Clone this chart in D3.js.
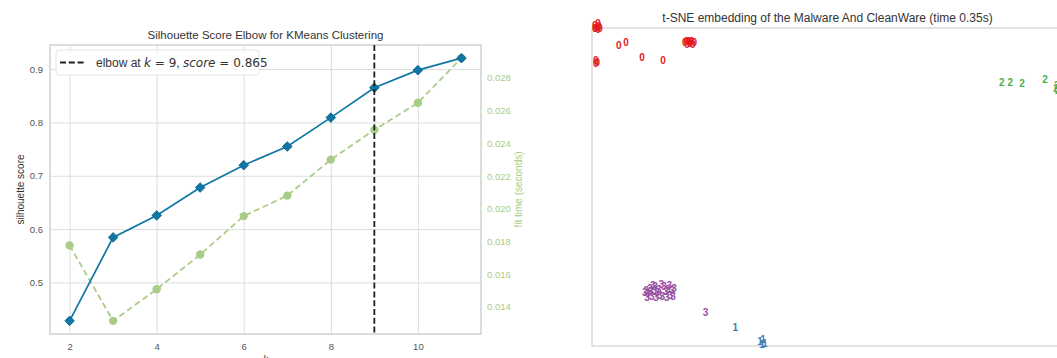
<!DOCTYPE html>
<html>
<head>
<meta charset="utf-8">
<script src="https://cdn.jsdelivr.net/npm/d3@7"></script>
<style>
  html, body { margin: 0; padding: 0; background: #ffffff; }
  svg { display: block; }
  text { font-family: "Liberation Sans", Arial, sans-serif; }
</style>
</head>
<body>
<svg id="chart" width="1057" height="358"></svg>
<script>
// ---------------- data ----------------
const kValues = [2, 3, 4, 5, 6, 7, 8, 9, 10, 11];
const silhouetteScores = [0.428, 0.5845, 0.6256, 0.678, 0.7198, 0.7548, 0.809, 0.865, 0.898, 0.9205];
const fitTimes = [0.01776, 0.01315, 0.01508, 0.0172, 0.01955, 0.0208, 0.0230, 0.02482, 0.02647, 0.0292];
const elbowK = 9;
const elbowScore = 0.865;
const xTickValues = [2, 4, 6, 8, 10];
const leftTickValues = [0.5, 0.6, 0.7, 0.8, 0.9];
const rightTickValues = [0.014, 0.016, 0.018, 0.020, 0.022, 0.024, 0.026, 0.028];

const leftTitle = "Silhouette Score Elbow for KMeans Clustering";
const rightTitle = "t-SNE embedding of the Malware And CleanWare (time 0.35s)";

// t-SNE embedding (normalised to [0,1]) per class label
const class0 = [
  [0.006, 1.009], [0.011, 1.003], [0.015, 1.006], [0.008, 0.997], [0.013, 1.013], [0.017, 1.000], [0.006, 1.000], [0.013, 0.994],
  [0.057, 0.944], [0.072, 0.954], [0.106, 0.908], [0.151, 0.897],
  [0.197, 0.953], [0.204, 0.959], [0.208, 0.950], [0.212, 0.956], [0.217, 0.953], [0.202, 0.947], [0.210, 0.959], [0.206, 0.953],
  [0.200, 0.956], [0.214, 0.949],
  [0.008, 0.899], [0.008, 0.887], [0.011, 0.893]
];
const class1 = [
  [0.304, 0.059], [0.357, 0.013], [0.363, 0.019], [0.367, 0.009], [0.361, 0.006]
];
const class2 = [
  [0.870, 0.830], [0.888, 0.830], [0.913, 0.824], [0.962, 0.837], [0.985, 0.811],
  [0.987, 0.818], [0.989, 0.805], [0.994, 0.821], [0.999, 0.811]
];
const class3 = [
  [0.115, 0.176], [0.119, 0.164], [0.123, 0.182], [0.127, 0.157], [0.134, 0.186], [0.138, 0.167], [0.142, 0.179],
  [0.149, 0.157], [0.153, 0.186], [0.157, 0.170], [0.161, 0.179], [0.166, 0.160], [0.170, 0.173], [0.117, 0.154],
  [0.132, 0.173], [0.147, 0.192], [0.164, 0.189], [0.172, 0.157], [0.136, 0.154], [0.125, 0.170],
  [0.112, 0.168], [0.174, 0.181], [0.144, 0.160], [0.129, 0.190], [0.159, 0.152],
  [0.241, 0.106]
];
const classColors = ["#e41a1c", "#377eb8", "#4daf4a", "#984ea3"];

// ---------------- drawing ----------------
const svg = d3.select("#chart");

const L = { left: 50, right: 481, top: 45, bottom: 334 };
const margin = (arr) => {
  const mn = d3.min(arr), mx = d3.max(arr), r = mx - mn;
  return [mn - 0.05 * r, mx + 0.05 * r];
};
const x = d3.scaleLinear().domain(margin(kValues)).range([L.left, L.right]);
const yL = d3.scaleLinear().domain(margin(silhouetteScores)).range([L.bottom, L.top]);
const yR = d3.scaleLinear().domain(margin(fitTimes)).range([L.bottom, L.top]);

const gridColor = "#dddddd";
const frameColor = "#d4d4d4";
const tickColor = "#555555";
const blue = "#0f77a5";
const green = "#a9cd88";
const greenText = "#a6cc86";

// grid
svg.append("g")
  .attr("transform", `translate(0,${L.bottom})`)
  .call(d3.axisBottom(x).tickValues(xTickValues).tickSize(-(L.bottom - L.top)).tickFormat(""))
  .call(g => g.select(".domain").remove())
  .call(g => g.selectAll("line").attr("stroke", gridColor).attr("stroke-width", 1));
svg.append("g")
  .attr("transform", `translate(${L.left},0)`)
  .call(d3.axisLeft(yL).tickValues(leftTickValues).tickSize(-(L.right - L.left)).tickFormat(""))
  .call(g => g.select(".domain").remove())
  .call(g => g.selectAll("line").attr("stroke", gridColor).attr("stroke-width", 1));

// frame
svg.append("rect")
  .attr("x", L.left).attr("y", L.top)
  .attr("width", L.right - L.left).attr("height", L.bottom - L.top)
  .attr("fill", "none").attr("stroke", frameColor).attr("stroke-width", 1.6);

// tick labels
svg.append("g")
  .attr("transform", `translate(0,${L.bottom})`)
  .call(d3.axisBottom(x).tickValues(xTickValues).tickSize(0).tickPadding(9).tickFormat(d3.format("d")))
  .call(g => g.select(".domain").remove())
  .call(g => g.selectAll("text").attr("fill", tickColor).attr("font-size", "9.5px")
    .attr("font-family", "Liberation Sans, Arial, sans-serif"));
svg.append("g")
  .attr("transform", `translate(${L.left},0)`)
  .call(d3.axisLeft(yL).tickValues(leftTickValues).tickSize(0).tickPadding(7).tickFormat(d3.format(".1f")))
  .call(g => g.select(".domain").remove())
  .call(g => g.selectAll("text").attr("fill", tickColor).attr("font-size", "9.5px")
    .attr("font-family", "Liberation Sans, Arial, sans-serif"));
svg.append("g")
  .attr("transform", `translate(${L.right},0)`)
  .call(d3.axisRight(yR).tickValues(rightTickValues).tickSize(0).tickPadding(6).tickFormat(d3.format(".3f")))
  .call(g => g.select(".domain").remove())
  .call(g => g.selectAll("text").attr("fill", greenText).attr("font-size", "9.5px")
    .attr("font-family", "Liberation Sans, Arial, sans-serif"));

// axis labels
svg.append("text")
  .attr("transform", `translate(24,${(L.top + L.bottom) / 2}) rotate(-90)`)
  .attr("text-anchor", "middle").attr("font-size", "10px").attr("fill", "#333")
  .text("silhouette score");
svg.append("text")
  .attr("transform", `translate(522,${(L.top + L.bottom) / 2}) rotate(-90)`)
  .attr("text-anchor", "middle").attr("font-size", "10px").attr("fill", greenText)
  .text("fit time (seconds)");
svg.append("text")
  .attr("x", (L.left + L.right) / 2).attr("y", 363)
  .attr("text-anchor", "middle").attr("font-size", "10px").attr("fill", "#333")
  .attr("font-style", "italic").attr("font-family", "DejaVu Sans, sans-serif")
  .text("k");

// title
svg.append("text")
  .attr("x", (L.left + L.right) / 2).attr("y", 39)
  .attr("text-anchor", "middle").attr("font-size", "11.5px").attr("fill", "#333")
  .text(leftTitle);

// fit time line (secondary)
const timeData = kValues.map((k, i) => ({ k, v: fitTimes[i] }));
svg.append("path")
  .datum(timeData)
  .attr("fill", "none").attr("stroke", green).attr("stroke-width", 1.8)
  .attr("stroke-dasharray", "6,3.5")
  .attr("d", d3.line().x(d => x(d.k)).y(d => yR(d.v)));
svg.append("g").selectAll("circle").data(timeData).join("circle")
  .attr("cx", d => x(d.k)).attr("cy", d => yR(d.v)).attr("r", 4.2)
  .attr("fill", green);

// silhouette line
const scoreData = kValues.map((k, i) => ({ k, v: silhouetteScores[i] }));
svg.append("path")
  .datum(scoreData)
  .attr("fill", "none").attr("stroke", blue).attr("stroke-width", 1.7)
  .attr("d", d3.line().x(d => x(d.k)).y(d => yL(d.v)));
const diamond = d3.symbol().type(d3.symbolSquare).size(46);
svg.append("g").selectAll("path").data(scoreData).join("path")
  .attr("d", diamond)
  .attr("transform", d => `translate(${x(d.k)},${yL(d.v)}) rotate(45)`)
  .attr("fill", blue).attr("stroke", "#0a5f86").attr("stroke-width", 0.8);

// elbow line
svg.append("line")
  .attr("x1", x(elbowK)).attr("x2", x(elbowK))
  .attr("y1", L.top).attr("y2", L.bottom)
  .attr("stroke", "#1e1e1e").attr("stroke-width", 1.8)
  .attr("stroke-dasharray", "6,2.8");

// legend
const lg = svg.append("g");
lg.append("rect")
  .attr("x", 56).attr("y", 50).attr("width", 203).attr("height", 25).attr("rx", 3)
  .attr("fill", "#ffffff").attr("fill-opacity", 0.85)
  .attr("stroke", "#e6e6e6").attr("stroke-width", 1);
lg.append("line")
  .attr("x1", 60).attr("x2", 84).attr("y1", 62.5).attr("y2", 62.5)
  .attr("stroke", "#1e1e1e").attr("stroke-width", 1.8).attr("stroke-dasharray", "6,2.8");
const lt = lg.append("text").attr("x", 96).attr("y", 67).attr("font-size", "12px").attr("fill", "#333")
  .attr("xml:space", "preserve");
lt.append("tspan").text("elbow at ");
lt.append("tspan").attr("font-family", "DejaVu Sans, sans-serif").attr("font-style", "italic").text("k");
lt.append("tspan").attr("font-family", "DejaVu Sans, sans-serif").text(` = ${elbowK}`);
lt.append("tspan").text(", ");
lt.append("tspan").attr("font-family", "DejaVu Sans, sans-serif").attr("font-style", "italic").text("score");
lt.append("tspan").attr("font-family", "DejaVu Sans, sans-serif").text(` = ${elbowScore}`);

// ---------------- t-SNE panel ----------------
const R = { left: 592, right: 1063, top: 28, bottom: 346 };
const tx = d3.scaleLinear().domain([0, 1]).range([R.left, R.right]);
const ty = d3.scaleLinear().domain([0, 1]).range([R.bottom, R.top]);

svg.append("rect")
  .attr("x", R.left).attr("y", R.top)
  .attr("width", R.right - R.left).attr("height", R.bottom - R.top)
  .attr("fill", "none").attr("stroke", "#dcdcdc").attr("stroke-width", 1.6);

svg.append("text")
  .attr("x", (R.left + R.right) / 2).attr("y", 22)
  .attr("text-anchor", "middle").attr("font-size", "12px").attr("fill", "#333")
  .text(rightTitle);

const classes = [class0, class1, class2, class3];
classes.forEach((pts, label) => {
  svg.append("g").selectAll("text").data(pts).join("text")
    .attr("x", d => tx(d[0])).attr("y", d => ty(d[1]))
    .attr("text-anchor", "middle").attr("dominant-baseline", "central")
    .attr("font-size", "10px").attr("font-weight", "bold")
    .attr("font-family", "DejaVu Sans, sans-serif")
    .attr("fill", classColors[label])
    .text(String(label));
});
</script>
</body>
</html>
